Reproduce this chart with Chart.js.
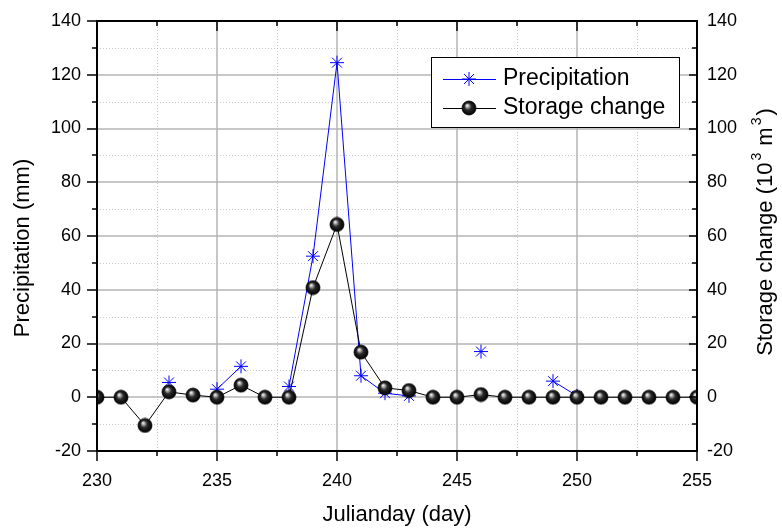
<!DOCTYPE html>
<html><head><meta charset="utf-8">
<script src="https://cdn.jsdelivr.net/npm/chart.js@4.4.1/dist/chart.umd.min.js"></script>
<style>html,body{margin:0;padding:0;background:#fff}#wrap{width:782px;height:528px}</style>
</head><body><div id="wrap"><canvas id="c" width="782" height="528"></canvas></div>
<script>
const days = [230,231,232,233,234,235,236,237,238,239,240,241,242,243,244,245,246,247,248,249,250,251,252,253,254,255];
const precipitation = [null,null,null,5.5,null,3,11.5,null,4,52.5,124.5,8,1.5,0.5,null,null,17,null,null,6,0.5,null,null,null,null,null];
const storageChange = [0,0,-10.5,2,0.8,0,4.5,0,0,40.8,64.3,16.8,3.5,2.5,0,0,1,0,0,0,0,0,0,0,0,0];
const xTickValues = [230,235,240,245,250,255];
const yTickValues = [-20,0,20,40,60,80,100,120,140];
const seriesNames = ['Precipitation','Storage change'];
const axisTitles = {x:'Julianday (day)', y:'Precipitation (mm)', y2:'Storage change (10', y2unit:' m', y2end:')'};

const FONT = '"Liberation Sans", Arial, sans-serif';

function makeBall(r){
  const s = Math.ceil(r*2)+2;
  const cv = document.createElement('canvas');
  cv.width = s; cv.height = s;
  const g = cv.getContext('2d');
  const c = s/2;
  const grad = g.createRadialGradient(c-r*0.3, c-r*0.4, 0, c, c, r);
  grad.addColorStop(0, '#ffffff');
  grad.addColorStop(0.18, '#bdbdbd');
  grad.addColorStop(0.5, '#2a2a2a');
  grad.addColorStop(1, '#000000');
  g.beginPath(); g.arc(c, c, r, 0, Math.PI*2);
  g.fillStyle = grad; g.fill();
  g.lineWidth = 0.8; g.strokeStyle = '#000'; g.stroke();
  return cv;
}
const ball = makeBall(7);

const precipData = days.map((d,i)=>({x:d, y:precipitation[i]}));
const storageData = days.map((d,i)=>({x:d, y:storageChange[i]}));

function noPad(s){ s.paddingTop = 0; s.paddingBottom = 0; s.paddingLeft = 0; s.paddingRight = 0; }

const framePlugin = {
  id:'frame',
  beforeDatasetsDraw(chart){
    const {ctx, chartArea:a, scales} = chart;
    const xs = scales.x, ys = scales.y;
    ctx.save();
    ctx.strokeStyle = '#c8c8c8'; ctx.lineWidth = 1; ctx.setLineDash([1,2]);
    for (let v = 232.5; v < 255; v += 5){
      const px = Math.round(xs.getPixelForValue(v))+0.5;
      ctx.beginPath(); ctx.moveTo(px, a.top); ctx.lineTo(px, a.bottom); ctx.stroke();
    }
    for (let v = -10; v < 140; v += 20){
      const py = Math.round(ys.getPixelForValue(v))+0.5;
      ctx.beginPath(); ctx.moveTo(a.left, py); ctx.lineTo(a.right, py); ctx.stroke();
    }
    ctx.setLineDash([]); ctx.strokeStyle = '#b4b4b4'; ctx.lineWidth = 1.5;
    xTickValues.forEach(v=>{
      const px = Math.round(xs.getPixelForValue(v));
      ctx.beginPath(); ctx.moveTo(px, a.top); ctx.lineTo(px, a.bottom); ctx.stroke();
    });
    yTickValues.forEach(v=>{
      const py = Math.round(ys.getPixelForValue(v));
      ctx.beginPath(); ctx.moveTo(a.left, py); ctx.lineTo(a.right, py); ctx.stroke();
    });
    ctx.restore();
  },
  afterDatasetsDraw(chart){
    const {ctx, chartArea:a, scales} = chart;
    const xs = scales.x, ys = scales.y;
    ctx.save();
    ctx.strokeStyle = '#000'; ctx.lineWidth = 2;
    ctx.strokeRect(a.left, a.top, a.right-a.left, a.bottom-a.top);
    ctx.lineWidth = 1.5;
    for (let v = 230; v <= 255; v += 2.5){
      const major = (v % 5 === 0);
      const px = Math.round(xs.getPixelForValue(v));
      const L = major ? 10 : 5;
      ctx.beginPath(); ctx.moveTo(px, a.bottom); ctx.lineTo(px, a.bottom+L); ctx.stroke();
      ctx.beginPath(); ctx.moveTo(px, a.top); ctx.lineTo(px, a.top+L); ctx.stroke();
    }
    for (let v = -20; v <= 140; v += 10){
      const major = (v % 20 === 0);
      const py = Math.round(ys.getPixelForValue(v));
      ctx.beginPath(); ctx.moveTo(a.left-(major?10:5), py); ctx.lineTo(a.left, py); ctx.stroke();
      ctx.beginPath(); ctx.moveTo(a.right, py); ctx.lineTo(a.right-(major?8:5), py); ctx.stroke();
    }
    // legend
    const bx = 431, by = 57, bw = 248, bh = 70;
    ctx.fillStyle = '#fff'; ctx.fillRect(bx, by, bw, bh);
    ctx.lineWidth = 1; ctx.strokeStyle = '#000';
    ctx.strokeRect(bx+0.5, by+0.5, bw, bh);
    const rows = [79, 108];
    ctx.strokeStyle = '#0000ff'; ctx.lineWidth = 1;
    ctx.beginPath(); ctx.moveTo(443, rows[0]+0.5); ctx.lineTo(496, rows[0]+0.5); ctx.stroke();
    Chart.helpers.drawPoint(ctx, {pointStyle:'star', radius:7, rotation:0, borderWidth:1}, 469, rows[0]);
    ctx.strokeStyle = '#000';
    ctx.beginPath(); ctx.moveTo(443, rows[1]+0.5); ctx.lineTo(496, rows[1]+0.5); ctx.stroke();
    ctx.drawImage(ball, 469 - ball.width/2, rows[1] - ball.height/2);
    ctx.fillStyle = '#000'; ctx.font = '23px ' + FONT;
    ctx.textBaseline = 'middle'; ctx.textAlign = 'left';
    ctx.fillText(seriesNames[0], 503, rows[0]);
    ctx.fillText(seriesNames[1], 503, rows[1]);
    ctx.restore();
  },
  afterDraw(chart){
    const {ctx, chartArea:a} = chart;
    ctx.save();
    ctx.fillStyle = '#000';
    ctx.textBaseline = 'alphabetic'; ctx.textAlign = 'center';
    ctx.font = '22px ' + FONT;
    ctx.fillText(axisTitles.x, (a.left+a.right)/2, 521);
    ctx.textBaseline = 'middle';
    ctx.save();
    ctx.translate(23, 248); ctx.rotate(-Math.PI/2);
    ctx.fillText(axisTitles.y, 0, 0);
    ctx.restore();
    ctx.save();
    ctx.translate(766, 232); ctx.rotate(-Math.PI/2);
    const big = '22px ' + FONT, small = '14px ' + FONT;
    const parts = [[axisTitles.y2, big, 0, 2],['3', small, -9, 1],[axisTitles.y2unit, big, 0, 2],['3', small, -9, 2],[axisTitles.y2end, big, 0, 0]];
    let total = 0;
    parts.forEach(p=>{ ctx.font = p[1]; p.push(ctx.measureText(p[0]).width); total += p[4] + p[3]; });
    let x = -total/2;
    ctx.textAlign = 'left';
    parts.forEach(p=>{ ctx.font = p[1]; ctx.fillText(p[0], x, p[2]); x += p[4] + p[3]; });
    ctx.restore();
    ctx.restore();
  }
};

new Chart(document.getElementById('c'), {
  type:'line',
  data:{datasets:[
    {label:seriesNames[1], data:storageData, yAxisID:'y2', borderColor:'#000', borderWidth:1,
     pointStyle:ball, pointRadius:7, pointHoverRadius:7, spanGaps:false, order:0, clip:0},
    {label:seriesNames[0], data:precipData, yAxisID:'y', borderColor:'#0000ff', backgroundColor:'#0000ff', borderWidth:1,
     pointStyle:'star', pointRadius:7, pointHoverRadius:7, pointBorderColor:'#0000ff', pointBorderWidth:1,
     spanGaps:false, order:1, clip:0}
  ]},
  options:{
    responsive:false, devicePixelRatio:1, animation:false,
    layout:{padding:{top:21,left:0,right:0,bottom:0}},
    plugins:{legend:{display:false}, tooltip:{enabled:false}},
    scales:{
      x:{type:'linear', min:230, max:255, position:'bottom',
         afterFit(s){ s.height = 77; noPad(s); },
         afterBuildTicks(s){ s.ticks = xTickValues.map(v=>({value:v})); },
         grid:{display:false, drawTicks:false}, border:{display:false},
         ticks:{padding:19, font:{family:FONT, size:18}, color:'#000', maxRotation:0}},
      y:{type:'linear', min:-20, max:140, position:'left',
         afterFit(s){ s.width = 97; noPad(s); },
         afterBuildTicks(s){ s.ticks = yTickValues.map(v=>({value:v})); },
         grid:{display:false, drawTicks:false}, border:{display:false},
         ticks:{padding:16, font:{family:FONT, size:18}, color:'#000'}},
      y2:{type:'linear', min:-20, max:140, position:'right',
         afterFit(s){ s.width = 85; noPad(s); },
         afterBuildTicks(s){ s.ticks = yTickValues.map(v=>({value:v})); },
         grid:{display:false, drawTicks:false}, border:{display:false},
         ticks:{padding:10, font:{family:FONT, size:18}, color:'#000'}}
    }
  },
  plugins:[framePlugin]
});
</script></body></html>
